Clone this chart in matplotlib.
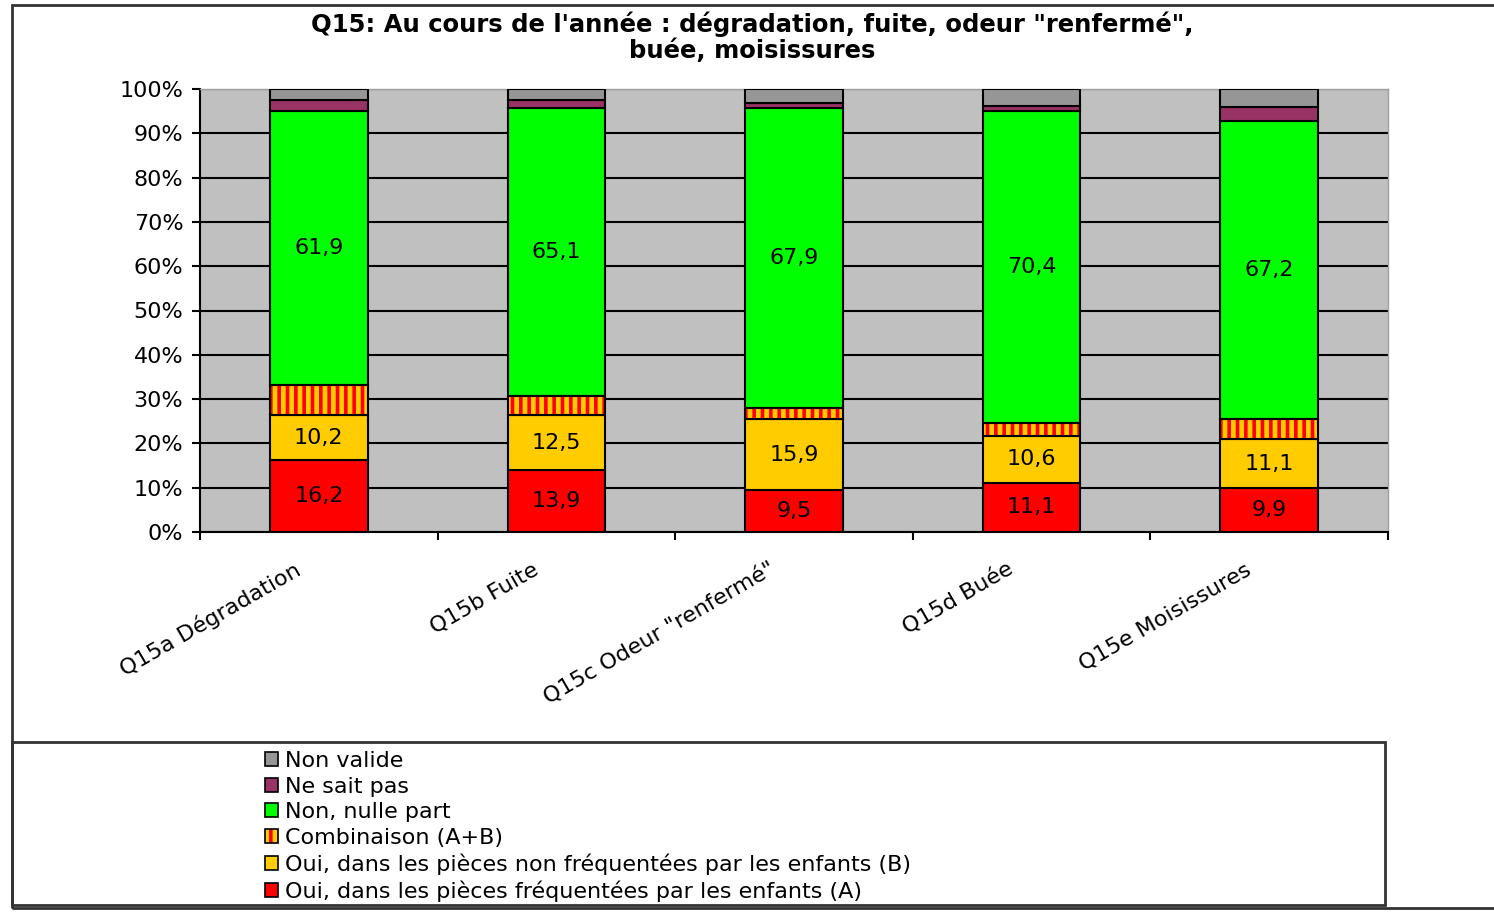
import numpy as np
import matplotlib
matplotlib.use("Agg")
import matplotlib.pyplot as plt
import matplotlib.transforms as mtransforms
from matplotlib.patches import Patch, Rectangle
from matplotlib.legend_handler import HandlerTuple

plt.rcParams["font.family"] = ["DejaVu Sans"]
plt.rcParams["hatch.color"] = "#FF0000"
plt.rcParams["hatch.linewidth"] = 2.6

# Data (percentages)
categories = ["Q15a Dégradation", "Q15b Fuite", 'Q15c Odeur "renfermé"',
              "Q15d Buée", "Q15e Moisissures"]
oui_a = [16.2, 13.9, 9.5, 11.1, 9.9]
oui_b = [10.2, 12.5, 15.9, 10.6, 11.1]
combinaison = [6.7, 4.3, 2.5, 3.0, 4.5]
non_nulle = [61.9, 65.1, 67.9, 70.4, 67.2]
ne_sait_pas = [2.5, 1.7, 1.0, 1.0, 3.2]
non_valide = [2.5, 2.5, 3.2, 3.9, 4.1]

labels = ["Oui, dans les pièces fréquentées par les enfants (A)",
          "Oui, dans les pièces non fréquentées par les enfants (B)",
          "Combinaison (A+B)", "Non, nulle part", "Ne sait pas", "Non valide"]
colors = ["#FF0000", "#FFCC00", "#FFCC00", "#00FF00", "#993366", "#969696"]
series = [oui_a, oui_b, combinaison, non_nulle, ne_sait_pas, non_valide]

fig = plt.figure(figsize=(14.94, 9.15), dpi=100)
ax = fig.add_axes([200 / 1494, 1 - 532 / 915, 1188 / 1494, 443 / 915])
ax.set_facecolor("#C0C0C0")

x = np.arange(len(categories))
width = 0.41
bottom = np.zeros(len(categories))
for i, (vals, col) in enumerate(zip(series, colors)):
    vals = np.array(vals)
    if i == 2:
        ax.bar(x, vals, width, bottom=bottom, color=col, hatch="||", zorder=3)
        ax.bar(x, vals, width, bottom=bottom, fill=False, edgecolor="black",
               linewidth=1.5, zorder=4)
    else:
        ax.bar(x, vals, width, bottom=bottom, color=col, edgecolor="black",
               linewidth=1.5, zorder=3)
    if i in (0, 1, 3):
        for xi, b, v in zip(x, bottom, vals):
            ax.text(xi, b + v / 2, f"{v:.1f}".replace(".", ","), ha="center",
                    va="center", fontsize=16, zorder=5)
    bottom += vals

ax.set_ylim(0, 100)
ax.set_xlim(-0.5, len(categories) - 0.5)
ax.set_yticks(np.arange(0, 101, 10))
ax.set_yticklabels([f"{v}%" for v in range(0, 101, 10)], fontsize=16)
ax.yaxis.grid(True, color="black", linewidth=1.5, zorder=1)
ax.set_axisbelow(True)

ax.set_xticks(np.arange(-0.5, len(categories)), minor=False)
ax.set_xticklabels([])
ax.set_xticks(x, minor=True)
ax.set_xticklabels(categories, minor=True, rotation=30, ha="right",
                   va="center", rotation_mode="anchor", fontsize=16)
ax.tick_params(axis="x", which="minor", length=0, pad=26)
ax.tick_params(axis="x", which="major", length=6, width=1.5, direction="out")
ax.tick_params(axis="y", length=6, width=1.5, direction="out", pad=6)
shift = mtransforms.ScaledTranslation(-0.2, 0, fig.dpi_scale_trans)
for lab in ax.get_xticklabels(minor=True):
    lab.set_transform(lab.get_transform() + shift)

for s in ["top", "right"]:
    ax.spines[s].set_color("#A0A0A0")
    ax.spines[s].set_linewidth(1)
for s in ["left", "bottom"]:
    ax.spines[s].set_linewidth(1.5)

fig.text(752 / 1494, 1 - 24 / 915,
         "Q15: Au cours de l'année : dégradation, fuite, odeur \"renfermé\",",
         ha="center", va="center", fontsize=17.5, fontweight="bold")
fig.text(752 / 1494, 1 - 51 / 915, "buée, moisissures",
         ha="center", va="center", fontsize=17.5, fontweight="bold")

# Outer chart frame and legend box
fig.patches.append(Rectangle((12 / 1494, 1 - 908 / 915), 1.1, 903 / 915,
                             transform=fig.transFigure, fill=False,
                             edgecolor="#333333", linewidth=2, clip_on=False))
fig.patches.append(Rectangle((12 / 1494, 1 - 905 / 915), 1373 / 1494, 163 / 915,
                             transform=fig.transFigure, fill=False,
                             edgecolor="#333333", linewidth=2))

handles = []
for i, col in enumerate(colors):
    if i == 2:
        handles.append((Patch(facecolor=col, hatch="||"),
                        Patch(fill=False, edgecolor="black", linewidth=1.2)))
    else:
        handles.append(Patch(facecolor=col, edgecolor="black", linewidth=1.2))

fig.legend(handles[::-1], labels[::-1], loc="upper left",
           bbox_to_anchor=(254 / 1494, 1 - 740 / 915), frameon=False,
           fontsize=16, handlelength=0.6, handleheight=0.6, handletextpad=0.3,
           labelspacing=0.25, borderpad=0,
           handler_map={tuple: HandlerTuple(ndivide=1, pad=0)})

fig.savefig("out.png", dpi=100)
